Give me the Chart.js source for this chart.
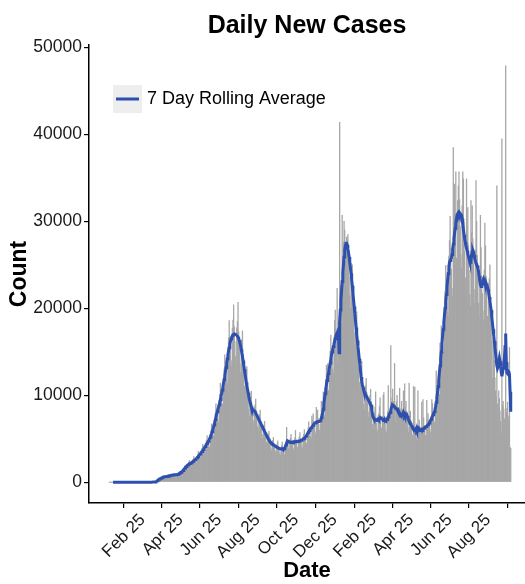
<!DOCTYPE html>
<html lang="en">
<head>
<meta charset="UTF-8">
<title>Daily New Cases</title>
<script src="https://cdn.jsdelivr.net/npm/chart.js"></script>
<style>
  html, body { margin: 0; padding: 0; background: #fff; }
  #chartContainer { width: 525px; height: 584px; }
</style>
</head>
<body>
<div id="chartContainer"><canvas id="casesChart"></canvas></div>

<script>
// one value per day, starting on this date
const startDate = '2020-01-03';

const tickLabels = ['Feb 25', 'Apr 25', 'Jun 25', 'Aug 25', 'Oct 25', 'Dec 25', 'Feb 25', 'Apr 25', 'Jun 25', 'Aug 25'];
const yTicks = [0, 10000, 20000, 30000, 40000, 50000];

const dailyCases = [
  // Jan 2020
  0,0,0,0,0,0,0,0,0,0, 0,0,0,0,0,0,0,0,0,0, 0,0,0,0,0,0,0,0,0,
  // Feb
  0,0,0,0,0,0,0,0,0,0, 0,0,0,0,0,0,0,0,0,0, 0,0,0,0,0,0,0,0,0,
  // Mar
  0,0,0,0,0,0,0,0,0,5, 3,10,12,20,30,40,90,150,200,320, 400,420,450,380,500,560,520,640,600,700, 650,
  // Apr
  620,700,650,600,750,820,700,760,850,900, 700,820,880,800,900,950,780,850,960,1000, 900,1100,1200,1000,1150,1300,1250,1350,1600,1500,
  // May
  1700,1900,1800,1700,1600,1550,2100,2300,2500,2250, 2050,1900,1800,2450,2650,2950,2650,2450,2250,2200, 2950,3150,3550,3200,3000,2750,2700,3600,3900,4350, 3900,
  // Jun
  3650,3400,3300,4450,4800,5350,4800,4450,4100,4000, 5450,5900,6700,6100,5750,5350,5300,7250,7900,9000, 8200,7700,7100,6900,9350,10100,11400,10350,9700,9000,
  // Jul
  8800,12000,13000,14650,13350,12550,11650,11350,15450,16600, 18600,16700,15400,14000,13350,17700,18650,20400,17900,16200, 14450,13550,17750,18500,20700,17300,15500,13600,12550,16050, 16400,
  // Aug
  17400,14700,12800,11050,10000,12600,12650,13300,11250,9800, 8400,7600,9650,9800,10450,8900,8000,7050,6600,8600, 8900,9550,8200,7250,6350,5900,7550,7750,8300,7100, 6250,
  // Sep
  5500,5050,6450,6600,7000,6000,5250,4600,4200,5400, 5500,5850,5000,4400,3900,3600,4650,4800,5150,4450, 4000,3550,3300,4250,4400,4750,4100,3700,3300,3100,
  // Oct
  4000,4200,4600,3950,3550,3250,3150,4300,4750,6300, 4900,4450,3950,3700,4850,5050,5500,4850,4400,3900, 3700,4850,5100,5950,4900,4450,4000,3750,4950,5200, 5700,
  // Nov
  5000,4600,4150,3900,5200,5500,6050,5350,4950,4500, 4350,5850,6250,6950,6250,5750,5250,5000,7600,7100, 7850,7000,6400,5800,5500,8600,7600,8300,7300,6650,
  // Dec
  6000,5650,7500,9300,9250,8350,10400,7650,7700,10700, 11800,13450,12300,13600,10600,10300,14000,15100,16900,15300, 14250,13000,12500,16700,18600,19800,17650,16150,22300,13800, 18400,
  // Jan 2021
  1000,41400,22600,21300,19500,30700,26000,27600,30000,29000, 25500,23100,28200,27900,28500,26000,23600,21500,20000,25200, 24100,25000,22400,19900,17200,15800,19500,19100,19600,17000, 14800,
  // Feb
  13200,11500,10600,13400,13300,13900,11800,10350,9000,8300, 10750,11100,11950,10300,9150,8100,7500,9650,9950,10700, 9300,7900,6650,6000,7700,8000,8600,10400,
  // Mar
  6800,6100,5800,7650,7900,8700,9700,7050,6250,5850, 7550,10000,10300,7600,6750,6000,5700,7550,8100,11100, 8100,7450,7100,15700,9200,9700,10700,9300,8300,13650, 6850,
  // Apr
  8900,9300,10000,8600,7650,6700,10800,8200,8450,9300, 8050,7400,10500,6300,11300,8650,9300,8200,7200,6300, 5750,11400,7650,8150,7000,6200,5450,5000,11000,6650,
  // May
  10950,6250,5800,5000,4800,10500,6500,7150,6350,5650, 5100,9200,6400,9500,7400,6500,6000,5400,5100,9400, 7200,7900,7050,6450,5900,5700,7600,9500,9050,8150, 7550,
  // Jun
  6900,6650,9150,12800,11650,10800,10450,10050,10100,16000, 15600,18000,16700,15950,14950,14700,20150,22000,24950,22700, 21300,19700,19200,26000,27800,30600,26900,24500,22300,21400,
  // Jul
  38500,30800,34300,30700,35700,25800,24600,32400,34100,35700, 32500,29400,26200,24600,31800,35700,34900,29900,26600,23500, 21800,34900,29300,31600,27300,24400,21600,20200,32400,28700, 31800,
  // Aug
  28000,25200,22200,20600,26700,34700,30000,26100,23400,20600, 19000,24300,30700,27000,23700,21700,19700,18700,24400,29800, 27200,23700,21600,19100,17800,22900,23400,25000,21300,18800, 16200,
  // Sep
  12000,16500,15800,14000,12000,10500,9800,34100,9000,8500, 10500,9600,8200,7000,5600,39500,8800,9300,8400,7300, 6200,47900,8000,8500,9200,7600,6900,15500,4000,3900
];

const rollingAvg = [
  // Jan 2020
  null,null,null,null,null,null,0,0,0,0, 0,0,0,0,0,0,0,0,0,0, 0,0,0,0,0,0,0,0,0,
  // Feb
  0,0,0,0,0,0,0,0,0,0, 0,0,0,0,0,0,0,0,0,0, 0,0,0,0,0,0,0,0,0,
  // Mar
  0,0,0,0,0,0,0,0,1,2, 3,5,8,12,18,25,60,100,150,220, 290,340,380,410,440,480,520,560,590,610, 620,
  // Apr
  630,640,650,660,680,700,720,740,760,780, 800,810,820,830,840,850,855,860,870,890, 920,960,1000,1050,1100,1150,1200,1260,1330,1420,
  // May
  1520,1620,1720,1810,1880,1950,2000,2050,2100,2140, 2180,2230,2280,2340,2390,2450,2520,2580,2650,2720, 2800,2880,2960,3050,3150,3250,3350,3440,3540,3640, 3730,
  // Jun
  3850,3980,4100,4230,4350,4470,4580,4700,4850,5000, 5180,5380,5580,5800,6050,6300,6600,6900,7200,7500, 7800,8100,8350,8600,8900,9200,9500,9850,10200,10600,
  // Jul
  11000,11400,11800,12200,12700,13200,13700,14200,14700,15100, 15500,15900,16200,16500,16700,16850,16950,17000,17050,17050, 17000,16950,16900,16800,16700,16500,16300,16000,15700,15300, 14900,
  // Aug
  14500,14000,13500,13000,12500,12000,11500,11100,10700,10300, 9900,9500,9200,8900,8700,8500,8400,8300,8250,8200, 8100,7950,7800,7650,7500,7350,7200,7050,6900,6750, 6600,
  // Sep
  6450,6300,6150,6000,5850,5700,5550,5400,5250,5120, 5000,4880,4760,4650,4560,4480,4420,4360,4300,4250, 4200,4150,4100,4050,4000,3960,3920,3900,3880,3850,
  // Oct
  3830,3800,3850,3780,3750,3850,3950,4100,4300,4500, 4650,4700,4650,4600,4620,4580,4560,4600,4620,4580, 4600,4620,4650,4640,4660,4680,4700,4680,4700,4720, 4750,
  // Nov
  4780,4820,4860,4900,4950,5000,5050,5100,5200,5320, 5450,5580,5700,5820,5950,6050,6150,6250,6350,6450, 6550,6650,6750,6800,6850,6900,6930,6950,6970,7000,
  // Dec
  7020,7050,7150,7400,7700,7950,8400,9000,9600,10200, 10700,11200,11700,12100,12500,12900,13300,13700,14100,14600, 15000,15300,15600,15900,16200,16500,16800,17000,17200,17300, 17500,
  // Jan 2021
  14900,18600,19800,20900,22000,23100,24100,25000,25900,26700, 27200,27500,27500,27300,26900,26400,25900,25300,24700,24000, 23300,22600,21800,21000,20200,19400,18600,17800,17000,16300, 15600,
  // Feb
  14900,14200,13500,12800,12100,11600,11200,10900,10600,10400, 10250,10100,9950,9800,9650,9500,9350,9200,9050,8950, 8850,8300,7800,7500,7350,7250,7180,7150,
  // Mar
  7150,7200,7250,7300,7200,7250,7350,7400,7350,7300, 7200,7100,7150,7250,7100,7050,7100,7200,7350,7500, 7700,7850,8000,8300,8600,8800,8900,8850,8750,8650, 8550,
  // Apr
  8500,8450,8350,8200,8050,7900,7950,7800,7700,7750, 7650,7800,8050,7900,7700,7850,7750,7800,7600,7400, 7200,7050,6950,6800,6650,6500,6400,6250,6150,6050,
  // May
  6000,5950,6100,5900,6000,6050,5900,5950,6050,5950, 6000,6050,6100,6050,6150,6200,6300,6350,6400,6450, 6550,6600,6700,6800,6950,7100,7250,7400,7550,7750, 7950,
  // Jun
  8100,8300,8700,9200,9700,10300,11000,11800,12600,13400, 14200,15000,15900,16800,17600,18400,19200,20000,20800,21600, 22400,23200,24000,24800,25300,25500,25600,25800,26200,26800,
  // Jul
  27400,28000,28600,29200,29800,30300,30700,30900,31000,30800, 31000,30900,30800,30700,30300,29700,29100,28500,28000,27600, 27200,26900,26600,26300,26000,25700,25400,25300,25600,26100, 26500,
  // Aug
  26700,26500,26100,25700,25400,25200,25000,24900,24600,24200, 23700,23100,22700,22500,22600,22800,23200,23400,23200,22900, 22700,22600,22700,22500,22200,21800,21300,20800,20300,19800, 19000,
  // Sep
  18300,17600,16900,16200,15500,14800,14000,13400,13100,13300, 13900,14300,13900,13300,12600,12200,12600,13100,13600,14300, 15600,17100,13800,12600,12500,12800,12700,12400,10400,8100
];

const monthNames = ['Jan', 'Feb', 'Mar', 'Apr', 'May', 'Jun', 'Jul', 'Aug', 'Sep', 'Oct', 'Nov', 'Dec'];
const dayLabels = dailyCases.map((_, i) => {
    const d = new Date(startDate + 'T00:00:00Z');
    d.setUTCDate(d.getUTCDate() + i);
    return monthNames[d.getUTCMonth()] + ' ' + d.getUTCDate();
});
const tickDays = dayLabels.map((lab, i) => tickLabels.includes(lab) ? i : -1).filter(i => i >= 0);

const FONT = "'Liberation Sans', Arial, Helvetica, sans-serif";
Chart.defaults.font.family = FONT;
Chart.defaults.color = '#1a1a1a';

// legend drawn as a grey key box inside the plot, ggplot style
const keyLegend = {
    id: 'keyLegend',
    afterDraw(chart) {
        const { ctx, chartArea } = chart;
        const x = chartArea.left + 24, y = chartArea.top + 40;
        ctx.save();
        ctx.fillStyle = '#eeeeee';
        ctx.fillRect(x, y, 29, 28);
        ctx.strokeStyle = '#2d4fae';
        ctx.lineWidth = 3;
        ctx.beginPath();
        ctx.moveTo(x + 3, y + 14);
        ctx.lineTo(x + 26, y + 14);
        ctx.stroke();
        ctx.fillStyle = '#000';
        ctx.font = '18px ' + FONT;
        ctx.textBaseline = 'middle';
        ctx.fillText('7 Day Rolling Average', x + 34, y + 14);
        ctx.restore();
    }
};

new Chart(document.getElementById('casesChart'), {
    type: 'bar',
    data: {
        datasets: [{
            type: 'line',
            label: '7 Day Rolling Average',
            data: rollingAvg.map((v, i) => ({ x: i, y: v })),
            borderColor: '#2d4fae',
            borderWidth: 3,
            pointRadius: 0,
            tension: 0,
            spanGaps: false,
            order: 0
        }, {
            label: 'Daily cases',
            data: dailyCases.map((v, i) => ({ x: i, y: v })),
            backgroundColor: '#a6a6a6',
            barPercentage: 1,
            categoryPercentage: 1,
            order: 1
        }]
    },
    options: {
        responsive: true,
        maintainAspectRatio: false,
        animation: false,
        layout: { padding: 0 },
        plugins: {
            legend: { display: false },
            tooltip: { enabled: false },
            title: {
                display: true,
                fullSize: false,
                text: 'Daily New Cases',
                color: '#000',
                font: { size: 25, weight: 'bold' },
                padding: { top: 11, bottom: 4 }
            }
        },
        scales: {
            x: {
                type: 'linear',
                offset: false,
                min: -32.1,
                max: 658.6,
                afterBuildTicks: axis => { axis.ticks = tickDays.map(v => ({ value: v })); },
                afterFit: axis => { axis.height = 81; },
                ticks: {
                    autoSkip: false,
                    minRotation: 45,
                    maxRotation: 45,
                    padding: 2,
                    font: { size: 17 },
                    callback: v => dayLabels[v]
                },
                grid: { drawOnChartArea: false, tickLength: 5, color: '#000', lineWidth: 1.2 },
                border: { display: true, color: '#000', width: 1.5 },
                title: {
                    display: true,
                    text: 'Date',
                    color: '#000',
                    font: { size: 22, weight: 'bold' },
                    padding: { top: 0, bottom: 0 }
                }
            },
            y: {
                min: -2400,
                max: 50300,
                afterBuildTicks: axis => { axis.ticks = yTicks.map(v => ({ value: v })); },
                afterFit: axis => { axis.width = 89; },
                ticks: {
                    padding: 2,
                    font: { size: 17.5 },
                    callback: v => String(v)
                },
                grid: { drawOnChartArea: false, tickLength: 5, color: '#000', lineWidth: 1.2 },
                border: { display: true, color: '#000', width: 1.5 },
                title: {
                    display: true,
                    text: 'Count',
                    color: '#000',
                    font: { size: 23, weight: 'bold' },
                    padding: { top: 6, bottom: 0 }
                }
            }
        }
    },
    plugins: [keyLegend]
});
</script>
</body>
</html>
